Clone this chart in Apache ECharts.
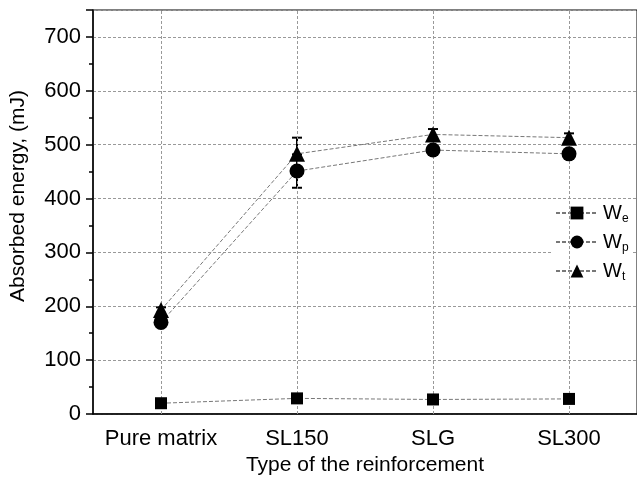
<!DOCTYPE html>
<html>
<head>
<meta charset="utf-8">
<script src="https://cdn.jsdelivr.net/npm/echarts@6/dist/echarts.min.js"></script>
<style>
  html, body { margin: 0; padding: 0; background: #fff; }
  #chart { width: 637px; height: 477px; }
</style>
</head>
<body>
<div id="chart"></div>
<script>
var categories = ['Pure matrix', 'SL150', 'SLG', 'SL300'];
var weValues = [20, 29, 27, 28];
var wpValues = [170, 451, 490, 483];
var wtValues = [193, 483, 519, 513];
var wpErr = [5, 31, 8, 6];
var wtErr = [5, 30, 10, 8];

var chartDom = document.getElementById('chart');
var myChart = echarts.init(chartDom);
var option;

var font = 'Liberation Sans, Arial, sans-serif';
var gray = '#777';

function errData(vals, errs) {
    return vals.map(function (v, i) { return [i, v - errs[i], v + errs[i]]; });
}

function renderErr(params, api) {
    var x = api.value(0);
    var lo = api.coord([x, api.value(1)]);
    var hi = api.coord([x, api.value(2)]);
    var cap = 5;
    var st = { stroke: '#000', lineWidth: 2 };
    return {
        type: 'group',
        children: [
            { type: 'line', shape: { x1: lo[0], y1: lo[1], x2: hi[0], y2: hi[1] }, style: st },
            { type: 'line', shape: { x1: lo[0] - cap, y1: lo[1], x2: lo[0] + cap, y2: lo[1] }, style: st },
            { type: 'line', shape: { x1: hi[0] - cap, y1: hi[1], x2: hi[0] + cap, y2: hi[1] }, style: st }
        ]
    };
}

var lineStyle = { color: gray, width: 1, type: [4, 2] };

option = {
    animation: false,
    grid: {
        left: 93, right: 0, top: 10, bottom: 63,
        outerBoundsMode: 'none',
        containLabel: false,
        show: true, borderColor: '#000', borderWidth: 1
    },
    legend: {
        orient: 'vertical',
        left: 553, top: 201,
        itemGap: 7,
        itemWidth: 42, itemHeight: 16,
        backgroundColor: '#fff',
        padding: [2, 4, 2, 2],
        data: ['We', 'Wp', 'Wt'],
        formatter: function (name) {
            return '{m|W}{s|' + name.slice(1) + '}';
        },
        textStyle: {
            rich: {
                m: { fontSize: 20, fontFamily: font, color: '#000' },
                s: { fontSize: 12, fontFamily: font, color: '#000', padding: [12, 0, 0, 0] }
            }
        }
    },
    xAxis: [
        {
            type: 'category',
            data: categories,
            name: 'Type of the reinforcement',
            nameLocation: 'middle',
            nameGap: 41,
            nameTextStyle: { fontSize: 21, fontFamily: font, color: '#000' },
            axisLine: { lineStyle: { color: '#000', width: 1.5 } },
            axisTick: { alignWithLabel: true, length: 6, lineStyle: { color: '#000', width: 1.5 } },
            axisLabel: { interval: 0, hideOverlap: false, fontSize: 22, fontFamily: font, color: '#000', margin: 14 },
            splitLine: { show: false }
        },
        {
            type: 'category',
            data: categories,
            position: 'bottom',
            axisLine: { show: false },
            axisTick: { interval: 0, length: 5, lineStyle: { color: '#000', width: 1.5 } },
            axisLabel: { show: false },
            splitLine: { show: false }
        }
    ],
    yAxis: {
        type: 'value',
        min: 0, max: 750, interval: 100,
        name: 'Absorbed energy, (mJ)',
        nameLocation: 'middle',
        nameGap: 64,
        nameTextStyle: { fontSize: 21, fontFamily: font, color: '#000', padding: [0, 0, 0, 32] },
        axisLine: { show: true, lineStyle: { color: '#000', width: 1.5 } },
        axisTick: { show: true, length: 7, lineStyle: { color: '#000', width: 1.5 } },
        minorTick: { show: true, splitNumber: 2, length: 4, lineStyle: { color: '#000', width: 1.5 } },
        axisLabel: {
            fontSize: 22, fontFamily: font, color: '#000', margin: 12,
            formatter: function (v) { return v % 100 === 0 ? v : ''; }
        },
        splitLine: { show: true, lineStyle: { color: '#999', width: 1, type: [3, 2] } }
    },
    series: [
        {
            name: 'We', type: 'line', data: weValues,
            symbol: 'rect', symbolSize: 12,
            itemStyle: { color: '#000' }, lineStyle: lineStyle, z: 5,
            markLine: {
                silent: true, symbol: 'none', label: { show: false },
                lineStyle: { color: '#999', width: 1, type: [3, 2] },
                data: categories.map(function (c) { return { xAxis: c }; })
            }
        },
        {
            name: 'Wp', type: 'line', data: wpValues,
            symbol: 'circle', symbolSize: 15,
            itemStyle: { color: '#000' }, lineStyle: lineStyle, z: 5
        },
        {
            name: 'Wt', type: 'line', data: wtValues,
            symbol: 'triangle', symbolSize: 16,
            itemStyle: { color: '#000' }, lineStyle: lineStyle, z: 5
        },
        {
            type: 'custom', data: errData(wpValues, wpErr),
            renderItem: renderErr, z: 4, silent: true
        },
        {
            type: 'custom', data: errData(wtValues, wtErr),
            renderItem: renderErr, z: 4, silent: true
        }
    ]
};

option && myChart.setOption(option);
</script>
</body>
</html>
